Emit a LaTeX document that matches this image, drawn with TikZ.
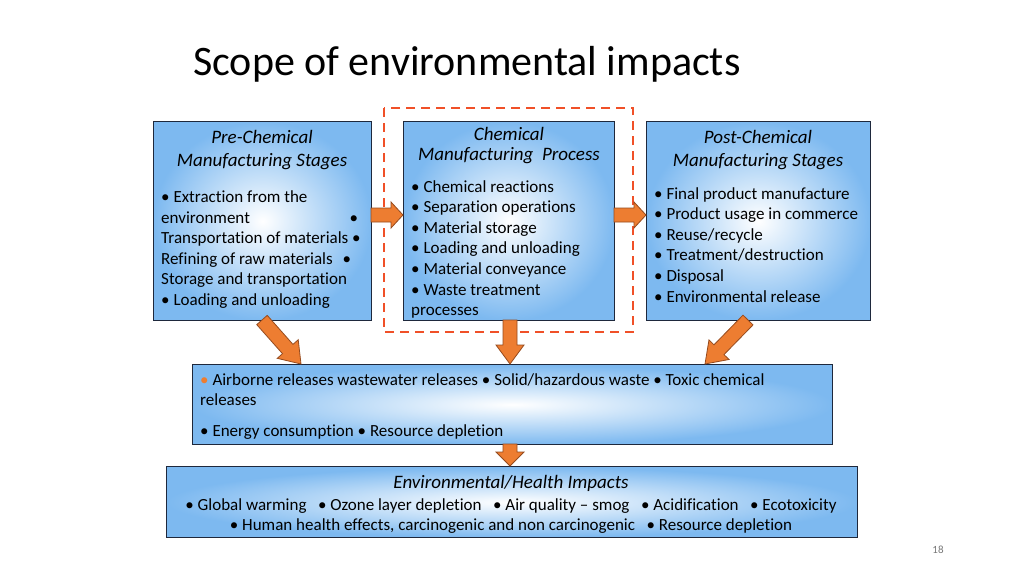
\documentclass[tikz,border=0pt]{standalone}
\usepackage{fontspec}
\setmainfont{Carlito}[Ligatures={NoCommon}]
\usetikzlibrary{calc}
\definecolor{boxblue}{RGB}{125,185,240}
\definecolor{boxline}{RGB}{30,40,60}
\definecolor{arrfill}{RGB}{237,125,49}
\definecolor{arrline}{RGB}{150,75,30}
\definecolor{dashred}{RGB}{240,80,40}
\definecolor{pgnum}{RGB}{120,120,120}
\tikzset{
  box/.style={draw=boxline, line width=1.2pt, shade, inner color=white, outer color=boxblue, anchor=north west, inner sep=0pt},
  body/.style={font=\fontsize{17}{20.6}\selectfont, align=left, anchor=north west, inner sep=0pt},
  ttl/.style={font=\fontsize{19}{23}\selectfont\itshape, align=center, anchor=north, inner sep=0pt},
  barr/.style={fill=arrfill, draw=arrline, line width=0.8pt, line join=miter}
}
% block arrow between two named coordinates: #1 start, #2 end, #3 shaft half-width, #4 head half-width, #5 head length
\newcommand\blockarrow[5]{%
  \coordinate (ba@h) at ($(#2)!#5!(#1)$);
  \draw[barr] ($(#1)!#3!90:(#2)$) -- ($(ba@h)!#3!-90:(#1)$) -- ($(ba@h)!#4!-90:(#1)$) -- (#2)
     -- ($(ba@h)!#4!90:(#1)$) -- ($(ba@h)!#3!90:(#1)$) -- ($(#1)!#3!-90:(#2)$) -- cycle;
}
\begin{document}
\begin{tikzpicture}[x=1pt,y=-1pt]
\useasboundingbox (0,0) rectangle (1024,576);
\fill[white] (0,0) rectangle (1024,576);

% title
\node[anchor=base west, inner sep=0pt, font=\fontsize{42}{48}\selectfont] (title) at (193,75) {Scope of environmental impacts};

% dashed frame
\draw[dashred, line width=2.4pt, dash pattern=on 9pt off 6pt] (384,108) rectangle (633,332);

% boxes
\node[box, minimum width=218pt, minimum height=199pt] (pre) at (153,121) {};
\node[box, minimum width=211pt, minimum height=199pt] (chem) at (403,121) {};
\node[box, minimum width=224pt, minimum height=199pt] (post) at (646,121) {};
\node[box, minimum width=640pt, minimum height=80pt] (rel) at (192,364) {};
\node[box, minimum width=691pt, minimum height=71pt] (imp) at (166,466) {};

% texts
\node[ttl] (pret) at (262,130) {Pre-Chemical\\Manufacturing Stages};
\node[body] (preb) at (161,190.5) {• Extraction from the\\\makebox[197pt][l]{environment\hfill•}\\Transportation of materials •\\\makebox[190pt][l]{Refining of raw materials\hfill•}\\Storage and transportation\\• Loading and unloading};

\node[ttl, font=\fontsize{19}{20}\selectfont\itshape] (chemt) at (509,127) {Chemical\\Manufacturing~~Process};
\node[body] (chemb) at (411,180) {• Chemical reactions\\• Separation operations\\• Material storage\\• Loading and unloading\\• Material conveyance\\• Waste treatment\\processes};

\node[ttl] (postt) at (758,130) {Post-Chemical\\Manufacturing Stages};
\node[body] (postb) at (654,187) {• Final product manufacture\\• Product usage in commerce\\• Reuse/recycle\\• Treatment/destruction\\• Disposal\\• Environmental release};

\node[body] (relb) at (200,373) {\textcolor{arrfill}{•} Airborne releases wastewater releases • Solid/hazardous waste • Toxic chemical\\releases\\[10pt]• Energy consumption • Resource depletion};

\node[body, align=center, anchor=north] (impb) at (511,475) {\textit{\fontsize{19}{20}\selectfont Environmental/Health Impacts}\\[1pt]• Global warming~~ • Ozone layer depletion~~ • Air quality – smog~~ • Acidification~~ • Ecotoxicity\\[-0.6pt]• Human health effects, carcinogenic and non carcinogenic~~ • Resource depletion};

% page number
\node[anchor=base, inner sep=0pt, font=\fontsize{11}{13}\selectfont, text=pgnum] (pg) at (938,553) {18};

% arrow anchors
\coordinate (a1s) at (371,215);
\coordinate (a1e) at (403,215);
\coordinate (a2s) at (614,215);
\coordinate (a2e) at (646,215);
\coordinate (a3s) at (262,320);
\coordinate (a3e) at (301,364);
\coordinate (a4s) at (510,320);
\coordinate (a4e) at (510,364);
\coordinate (a5s) at (748,320);
\coordinate (a5e) at (705,364);
\coordinate (a6s) at (510,444);
\coordinate (a6e) at (510,466);

\blockarrow{a1s}{a1e}{7pt}{13pt}{12pt}
\blockarrow{a2s}{a2e}{7pt}{13pt}{12pt}
\blockarrow{a3s}{a3e}{7pt}{14pt}{20pt}
\blockarrow{a4s}{a4e}{7pt}{14pt}{19pt}
\blockarrow{a5s}{a5e}{7pt}{14pt}{20pt}
\blockarrow{a6s}{a6e}{7pt}{14pt}{14pt}
\end{tikzpicture}
\end{document}
